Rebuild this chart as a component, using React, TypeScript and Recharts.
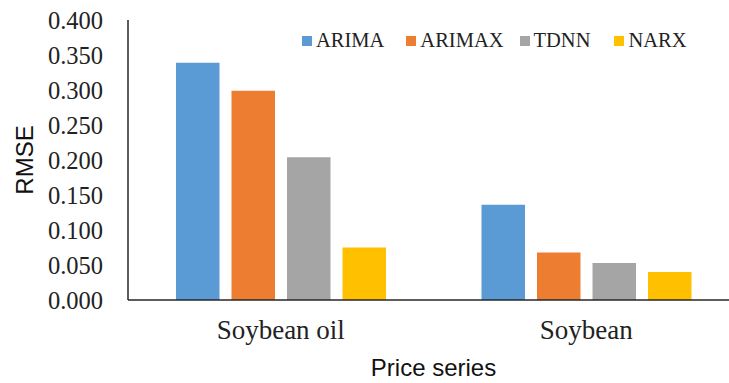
import React from "react";
import {
  BarChart,
  Bar,
  XAxis,
  YAxis,
  Legend,
  Label,
} from "recharts";

const categories = ["Soybean oil", "Soybean"];
const arima = [0.339, 0.136];
const arimax = [0.299, 0.068];
const tdnn = [0.204, 0.053];
const narx = [0.075, 0.040];
const yTicks = [0, 0.05, 0.1, 0.15, 0.2, 0.25, 0.3, 0.35, 0.4];

const series = [
  { key: "ARIMA", color: "#5B9BD5" },
  { key: "ARIMAX", color: "#ED7D31" },
  { key: "TDNN", color: "#A5A5A5" },
  { key: "NARX", color: "#FFC000" },
];

const data = categories.map((name, i) => ({
  name,
  ARIMA: arima[i],
  ARIMAX: arimax[i],
  TDNN: tdnn[i],
  NARX: narx[i],
}));

const serif = "'Liberation Serif', 'Times New Roman', serif";
const sans = "'Liberation Sans', Arial, sans-serif";

// legend drawn in series order (recharts would sort it by name)
const LegendBox = () => (
  <div
    style={{
      display: "flex",
      whiteSpace: "nowrap",
      fontFamily: serif,
      fontSize: 20.5,
      color: "#222",
      alignItems: "center",
    }}
  >
    {series.map((s, i) => (
      <div
        key={s.key}
        style={{
          display: "flex",
          alignItems: "center",
          marginRight: i === 0 ? 22 : i === 1 ? 16 : 24,
        }}
      >
        <span
          style={{
            display: "inline-block",
            width: 10,
            height: 10,
            background: s.color,
            marginRight: 4,
          }}
        />
        <span>{s.key}</span>
      </div>
    ))}
  </div>
);

const App: React.FC = () => {
  return (
    <div style={{ position: "absolute", left: 0, top: 0, background: "#fff", overflow: "hidden", width: 729, height: 383 }}>
      {/* plot runs past the right edge in the original, so the right margin is negative */}
      <BarChart
        width={729}
        height={383}
        data={data}
        margin={{ top: 20, right: -10, bottom: 0, left: 0 }}
        barSize={43.5}
        barGap={12}
      >
        <XAxis
          dataKey="name"
          height={83}
          tickLine={false}
          tickSize={0}
          axisLine={{ stroke: "#262626", strokeWidth: 1.5 }}
          tickMargin={20}
          tick={{ fill: "#222", fontFamily: serif, fontSize: 27 }}
        >
          <Label
            value="Price series"
            position="insideBottom"
            offset={7}
            style={{ fill: "#111", fontFamily: sans, fontSize: 24 }}
          />
        </XAxis>
        <YAxis
          width={128}
          domain={[0, 0.4]}
          ticks={yTicks}
          interval={0}
          tickFormatter={(v: number) => v.toFixed(3)}
          tickLine={false}
          tickSize={0}
          tickMargin={25}
          axisLine={{ stroke: "#262626", strokeWidth: 1.5 }}
          tick={{ fill: "#222", fontFamily: serif, fontSize: 24.5 }}
        >
          <Label
            value="RMSE"
            angle={-90}
            position="insideLeft"
            offset={24}
            style={{ fill: "#111", fontFamily: sans, fontSize: 24, textAnchor: "middle" }}
          />
        </YAxis>
        <Legend
          verticalAlign="middle"
          align="center"
          layout="horizontal"
          content={<LegendBox />}
          wrapperStyle={{ top: 29, left: 302, width: "auto" }}
        />
        {series.map((s) => (
          <Bar
            key={s.key}
            dataKey={s.key}
            fill={s.color}
            isAnimationActive={false}
          />
        ))}
      </BarChart>
    </div>
  );
};

export default App;
